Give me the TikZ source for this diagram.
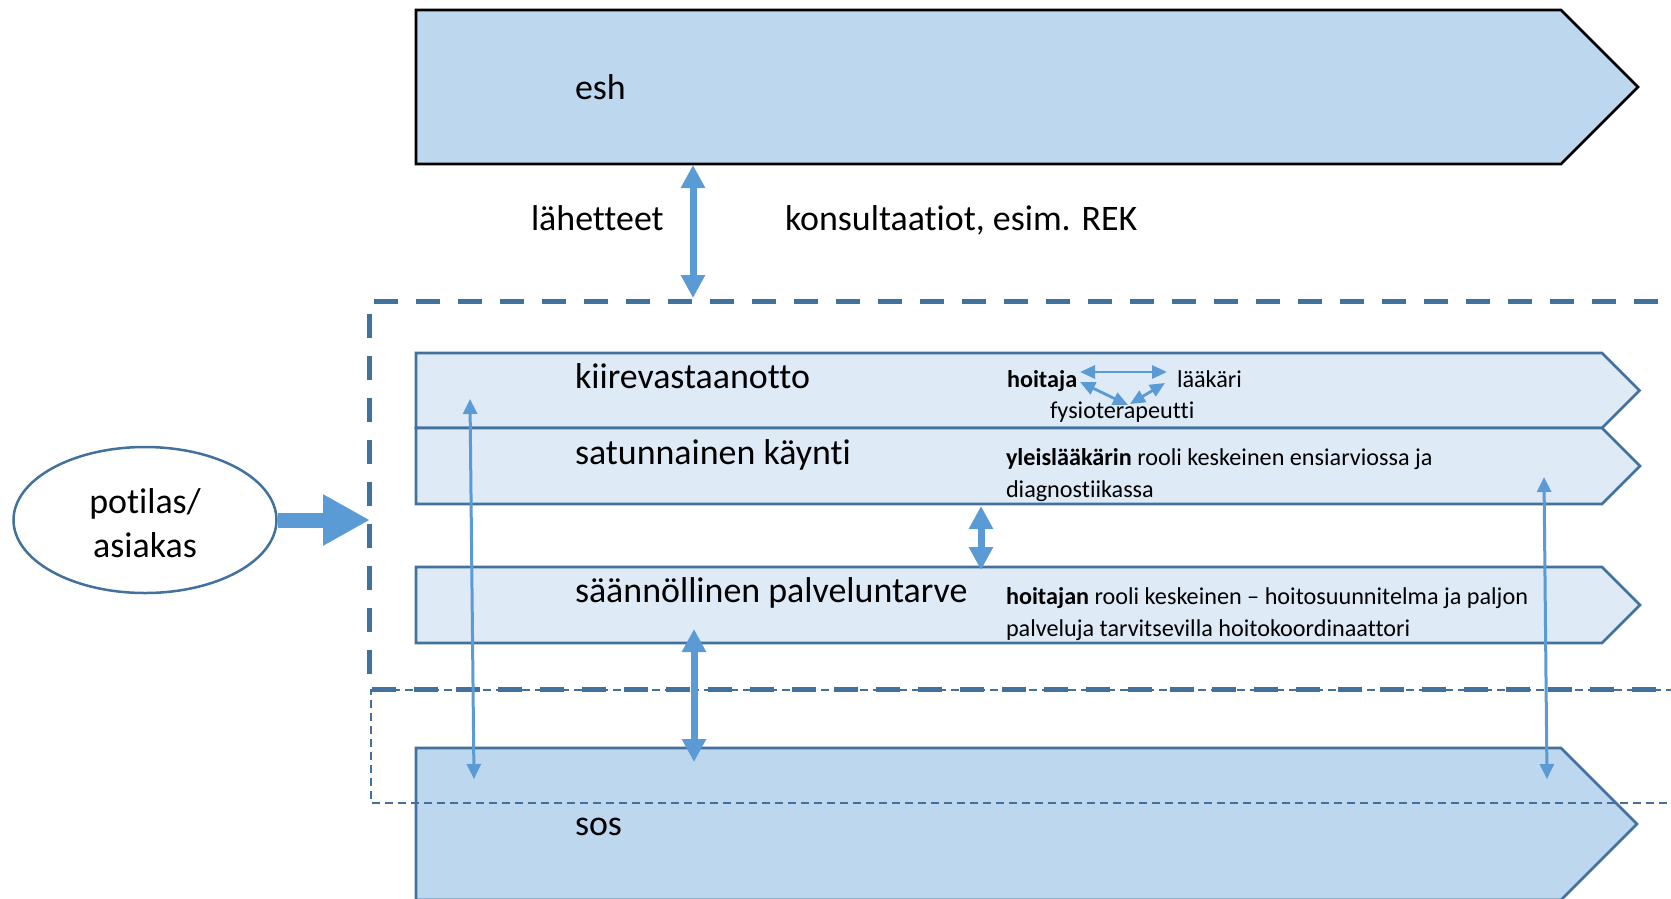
\documentclass[tikz,border=0pt]{standalone}
\usepackage{fontspec}
\setmainfont[Ligatures={NoCommon}]{Carlito}
\usetikzlibrary{arrows.meta,shapes.geometric}
\definecolor{boxdark}{HTML}{BDD7EE}
\definecolor{boxlight}{HTML}{DEEBF7}
\definecolor{edgeblue}{HTML}{41719C}
\definecolor{arrowblue}{HTML}{5B9BD5}
\begin{document}
\begin{tikzpicture}[x=1pt,y=-1pt,
  bigfont/.style={font=\fontsize{35.9}{43}\selectfont},
  smallfont/.style={font=\fontsize{24.2}{32}\selectfont},
  lbl/.style={anchor=base west, inner sep=0pt, outer sep=0pt},
  body/.style={draw=none, inner sep=0pt, outer sep=0pt, rectangle},
  chev/.style={line width=2.7pt, line join=miter},
  thickdash/.style={draw=edgeblue, line width=5pt, dash pattern=on 24pt off 18pt},
  thindash/.style={draw=edgeblue, line width=2.7pt, dash pattern=on 8pt off 5pt},
  fatarrow/.style={draw=arrowblue, line width=7pt, >={Triangle[width=23pt,length=23pt]}, <->},
  thinarrow/.style={draw=arrowblue, line width=3pt, >={Triangle[width=14pt,length=15pt]}, <->},
  tinyarrow/.style={draw=arrowblue, line width=2.8pt, >={Triangle[width=13pt,length=15pt]}, <->},
  bigarrow/.style={draw=arrowblue, line width=15pt, -{Triangle[width=48pt,length=47pt]}},
]
\useasboundingbox (0,0) rectangle (1671,898);
\clip (0,0) rectangle (1671,898);

% boxes
\node[body, minimum width=1145pt, minimum height=154pt] (esh) at (988.5,87) {};
\filldraw[chev, fill=boxdark, draw=black] (esh.north west) -- (esh.north east) -- ([xshift=77pt]esh.east) -- (esh.south east) -- (esh.south west) -- cycle;

\node[body, minimum width=1145pt, minimum height=152pt] (sos) at (988.5,824) {};
\filldraw[chev, fill=boxdark, draw=edgeblue] (sos.north west) -- (sos.north east) -- ([xshift=76pt]sos.east) -- (sos.south east) -- (sos.south west) -- cycle;

\node[body, minimum width=1186pt, minimum height=75pt] (kiire) at (1009,390.5) {};
\filldraw[chev, fill=boxlight, draw=edgeblue] (kiire.north west) -- (kiire.north east) -- ([xshift=37.5pt]kiire.east) -- (kiire.south east) -- (kiire.south west) -- cycle;

\node[body, minimum width=1186pt, minimum height=76pt] (satun) at (1009,466) {};
\filldraw[chev, fill=boxlight, draw=edgeblue] (satun.north west) -- (satun.north east) -- ([xshift=38pt]satun.east) -- (satun.south east) -- (satun.south west) -- cycle;

\node[body, minimum width=1186pt, minimum height=76pt] (saan) at (1009,605) {};
\filldraw[chev, fill=boxlight, draw=edgeblue] (saan.north west) -- (saan.north east) -- ([xshift=38pt]saan.east) -- (saan.south east) -- (saan.south west) -- cycle;

% dashed frames
\draw[thickdash] (1700,301) -- (369,301) -- (369,689) -- (1700,689);
\draw[thindash] (1700,690) -- (371,690) -- (371,803) -- (1700,803);

% patient
\node[ellipse, draw=edgeblue, line width=2.5pt, minimum width=263pt, minimum height=146pt, inner sep=0pt] (pat) at (145,520) {};
\node[bigfont, anchor=base, inner sep=0pt] (pat1) at (145,513) {potilas/};
\node[bigfont, anchor=base, inner sep=0pt] (pat2) at (145,557) {asiakas};
\coordinate (frameW) at (370,520);
\draw[bigarrow] (pat.east) -- (frameW);

% connector coordinates
\coordinate (a1t) at (693,165);
\coordinate (a1b) at (693,298);
\coordinate (a2t) at (981,506);
\coordinate (a2b) at (981,570);
\coordinate (a3t) at (694,629);
\coordinate (a3b) at (694,762);
\coordinate (l1t) at (470,399);
\coordinate (l1b) at (474,779);
\coordinate (r1t) at (1544,477);
\coordinate (r1b) at (1547,779);
\coordinate (hoR) at (1080,372);
\coordinate (laL) at (1167,372);
\coordinate (hoD) at (1080,382);
\coordinate (laD) at (1165,383);
\coordinate (fyL) at (1128,405);
\coordinate (fyR) at (1130,404);

\draw[fatarrow] (a1t) -- (a1b);
\draw[fatarrow] (a2t) -- (a2b);
\draw[fatarrow] (a3t) -- (a3b);
\draw[thinarrow] (l1t) -- (l1b);
\draw[thinarrow] (r1t) -- (r1b);
\draw[tinyarrow] (hoR) -- (laL);
\draw[tinyarrow] (hoD) -- (fyL);
\draw[tinyarrow] (laD) -- (fyR);

% texts
\node[lbl, bigfont] (teksh) at (575,99) {esh};
\node[lbl, bigfont] (tlah) at (531,230) {lähetteet};
\node[lbl, bigfont] (tkons) at (785,230) {konsultaatiot, esim. REK};
\node[lbl, bigfont] (tkiire) at (575,388) {kiirevastaanotto};
\node[lbl, bigfont] (tsatun) at (575,464) {satunnainen käynti};
\node[lbl, bigfont] (tsaan) at (575,602) {säännöllinen palveluntarve};
\node[lbl, bigfont] (tsos) at (575,835) {sos};

\node[lbl, smallfont] (thoi) at (1007,387) {\textbf{hoitaja}};
\node[lbl, smallfont] (tlaa) at (1177,387) {lääkäri};
\node[lbl, smallfont] (tfys) at (1050,418) {fysioterapeutti};
\node[lbl, smallfont] (tyl1) at (1006,465) {\textbf{yleislääkärin} rooli keskeinen ensiarviossa ja};
\node[lbl, smallfont] (tyl2) at (1006,497) {diagnostiikassa};
\node[lbl, smallfont] (tho1) at (1006,604) {\textbf{hoitajan} rooli keskeinen – hoitosuunnitelma ja paljon};
\node[lbl, smallfont] (tho2) at (1006,636) {palveluja tarvitsevilla hoitokoordinaattori};
\end{tikzpicture}
\end{document}
